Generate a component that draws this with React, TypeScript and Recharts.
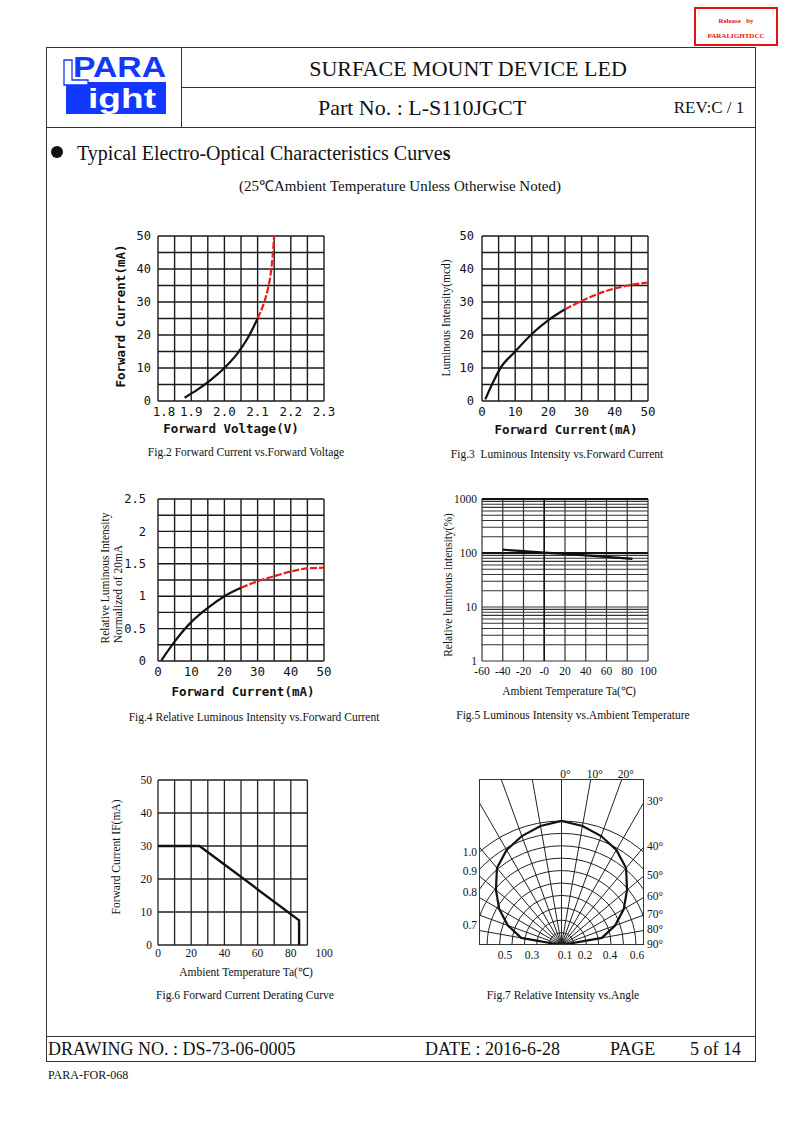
import React from 'react';
import {
  LineChart, Line, XAxis, YAxis, CartesianGrid, ReferenceLine,
  RadarChart, Radar, PolarGrid, PolarAngleAxis, PolarRadiusAxis,
} from 'recharts';

const SERIF = '"Liberation Serif", "Times New Roman", serif';
const MONO = '"DejaVu Sans Mono", "Liberation Mono", monospace';
const INK = '#111';
const RED = '#f01a1a';
const LOGO_BLUE = '#1238ff';

// Fig.2 forward current vs forward voltage
const fig2VoltSolid = [1.88, 1.92, 1.96, 2.0, 2.04, 2.07, 2.1];
const fig2CurSolid = [1, 3.5, 6.5, 10, 14.5, 19, 25];
const fig2VoltDash = [2.1, 2.12, 2.13, 2.14, 2.145, 2.15];
const fig2CurDash = [25, 30, 33.5, 39, 43.5, 50];
const fig2XTicks = [1.8, 1.9, 2.0, 2.1, 2.2, 2.3];
const fig2XGrid = [1.8, 1.85, 1.9, 1.95, 2.0, 2.05, 2.1, 2.15, 2.2, 2.25, 2.3];

// Fig.3 luminous intensity vs forward current
const fig3CurSolid = [1, 3, 5.5, 10, 15, 20, 25];
const fig3LumSolid = [0.5, 5.0, 9.9, 15, 20.3, 24.5, 27.8];
const fig3CurDash = [25, 30, 35, 40, 45, 50];
const fig3LumDash = [27.8, 30.3, 32.5, 34.1, 35.2, 35.9];

// Fig.4 relative luminous intensity vs forward current
const fig4CurSolid = [1, 5, 10, 15, 20, 25];
const fig4RelSolid = [0.01, 0.3, 0.6, 0.82, 1.0, 1.13];
const fig4CurDash = [25, 30, 35, 40, 45, 50];
const fig4RelDash = [1.13, 1.23, 1.31, 1.38, 1.43, 1.44];
const fig4YTicks = [0, 0.5, 1, 1.5, 2, 2.5];
const fig4YGrid = [0, 0.25, 0.5, 0.75, 1, 1.25, 1.5, 1.75, 2, 2.25, 2.5];

// shared current axis (0-50)
const ticks50 = [0, 10, 20, 30, 40, 50];
const grid50 = [0, 5, 10, 15, 20, 25, 30, 35, 40, 45, 50];

// Fig.5 luminous intensity vs ambient temperature (log)
const fig5Temp = [-40, -20, 0, 20, 40, 60, 85];
const fig5Rel = [115, 108, 102, 96, 90, 85, 78];
const fig5XTicks = [-60, -40, -20, 0, 20, 40, 60, 80, 100];
const fig5XLabels = ['-60', '-40', '-20', '-0', '20', '40', '60', '80', '100'];
const fig5YTicks = [1, 10, 100, 1000];
const fig5YGrid = [1, 2, 3, 4, 5, 6, 7, 8, 9, 10, 20, 30, 40, 50, 60, 70, 80, 90, 100, 200, 300, 400, 500, 600, 700, 800, 900, 1000];

// Fig.6 derating curve
const fig6Temp = [0, 25, 85, 85];
const fig6Cur = [30, 30, 7.5, 0];
const fig6XTicks = [0, 20, 40, 60, 80, 100];
const fig6XGrid = [0, 10, 20, 30, 40, 50, 60, 70, 80, 90];
const fig6YGrid = [0, 10, 20, 30, 40, 50];

// Fig.7 relative intensity vs angle
const fig7Angles = [-90, -80, -70, -60, -50, -40, -30, -20, -10, 0, 10, 20, 30, 40, 50, 60, 70, 80, 90];
const fig7Intensity = [0, 0.33, 0.46, 0.58, 0.69, 0.81, 0.885, 0.935, 0.975, 1.0, 0.975, 0.935, 0.885, 0.81, 0.69, 0.58, 0.46, 0.33, 0];
const fig7Rings = [0.1, 0.2, 0.3, 0.4, 0.5, 0.6, 0.7, 0.8, 0.9, 1.0];
const fig7Spokes = [0, 10, 20, 30, 40, 50, 60, 70, 80, 90, 100, 110, 120, 130, 140, 150, 160, 170, 180];
const fig7AngleLabels = ['0°', '10°', '20°', '30°', '40°', '50°', '60°', '70°', '80°', '90°'];
const fig7LeftLabels = ['1.0', '0.9', '0.8', '0.7'];
const fig7BottomLabels = ['0.5', '0.3', '0.1', '0.2', '0.4', '0.6'];

const splitRows = (x1: number[], y1: number[], x2: number[], y2: number[]) => [
  ...x1.map((x, i) => ({ x, solid: y1[i] })),
  ...x2.map((x, i) => ({ x, dash: y2[i] })),
];

const fig2Data = splitRows(fig2VoltSolid, fig2CurSolid, fig2VoltDash, fig2CurDash);
const fig3Data = splitRows(fig3CurSolid, fig3LumSolid, fig3CurDash, fig3LumDash);
const fig4Data = splitRows(fig4CurSolid, fig4RelSolid, fig4CurDash, fig4RelDash);
const fig5Data = fig5Temp.map((x, i) => ({ x, rel: fig5Rel[i] }));
const fig6Data = fig6Temp.map((x, i) => ({ x, cur: fig6Cur[i] }));
const fig7Data = fig7Angles.map((angle, i) => ({ angle, value: fig7Intensity[i] }));

const YW = 44;
const XH = 26;
const PT = 10;
const PR = 22;

const place = (px: number, py: number, pw: number, ph: number) => ({
  style: { position: 'absolute' as const, left: px - YW, top: py - PT },
  width: YW + pw + PR,
  height: PT + ph + XH,
});

const Txt = ({ x, y, children, size = 12, family = SERIF, weight = 400, anchor = 'middle', color = INK, rotate = false }: any) => {
  const tx = anchor === 'middle' ? '-50%' : anchor === 'end' ? '-100%' : '0';
  return (
    <div
      style={{
        position: 'absolute', left: x, top: y, fontSize: size, fontFamily: family, fontWeight: weight,
        color, whiteSpace: 'nowrap', lineHeight: 1,
        transform: rotate ? 'translate(-50%,-50%) rotate(-90deg)' : `translate(${tx},-50%)`,
      }}
    >
      {children}
    </div>
  );
};

const HLine = ({ x1, x2, y, w = 1 }: any) => (
  <div style={{ position: 'absolute', left: x1, top: y, width: x2 - x1, height: w, background: '#333' }} />
);
const VLine = ({ x, y1, y2, w = 1 }: any) => (
  <div style={{ position: 'absolute', left: x, top: y1, width: w, height: y2 - y1, background: '#333' }} />
);

const monoTick = { fontSize: 12, fontFamily: MONO, fill: INK };
const serifTick = { fontSize: 11.5, fontFamily: SERIF, fill: INK };

// x tick with an optional nudge of the first label (keeps it clear of the y "0")
const shiftedTick = (firstDx: number, fmt?: (v: number) => string) => (p: any) => (
  <text x={p.x + (p.index === 0 ? firstDx : 0)} y={p.y} dy="0.71em" textAnchor="middle"
    fontSize={12.5} fontFamily={MONO} fill={INK}>
    {fmt ? fmt(p.payload.value) : p.payload.value}
  </text>
);

const SplitChart = ({ box, data, xDomain, xTicks, xGrid, yDomain, yTicks, yGrid, xFmt, firstDx = 0, yTickSize = 4 }: any) => (
  <div style={box.style}>
    <LineChart width={box.width} height={box.height} data={data} margin={{ top: PT, right: PR, bottom: 0, left: 0 }}>
      <CartesianGrid stroke="#1a1a1a" strokeWidth={1.4} horizontalValues={yGrid} verticalValues={xGrid} />
      <XAxis dataKey="x" type="number" domain={xDomain} ticks={xTicks} interval={0} height={XH}
        tickLine={false} axisLine={false} tickSize={4} tick={shiftedTick(firstDx, xFmt)} />
      <YAxis type="number" domain={yDomain} ticks={yTicks} interval={0} width={YW}
        tickLine={false} axisLine={false} tickSize={yTickSize} tick={monoTick} />
      <Line dataKey="solid" type="monotone" stroke={INK} strokeWidth={2.2} dot={false} isAnimationActive={false} />
      <Line dataKey="dash" type="monotone" stroke={RED} strokeWidth={2.2} strokeDasharray="7 2" dot={false} isAnimationActive={false} />
    </LineChart>
  </div>
);

// Fig.7 geometry (box and polar origin)
const F7 = { left: 479, top: 779, w: 165, h: 166 };
const F7_OUTER = 248;
const F7_RMAX = 2;
const ringPx = fig7Rings.map((v) => (v * F7_OUTER) / F7_RMAX);

export default function App() {
  const b2 = place(158, 236, 166, 165);
  const b3 = place(482, 236, 166, 165);
  const b4 = place(158, 499, 166, 162);
  const b5 = place(482, 499, 166, 162);
  const b6 = place(158, 780, 166, 165);
  const ox = F7.w / 2;
  const oy = F7.h;

  return (
    <div style={{ position: 'absolute', left: 0, top: 0, width: 793, height: 1123, background: '#fff', fontFamily: SERIF, color: INK }}>
      {/* release stamp */}
      <div style={{ position: 'absolute', left: 694, top: 7, width: 80, height: 35, border: '2px solid #e81010' }} />
      <Txt x={736} y={21} size={7} weight={700} color="#e81010">Release&nbsp;&nbsp;&nbsp;by</Txt>
      <Txt x={736} y={36} size={7} weight={700} color="#e81010">PARALIGHTDCC</Txt>

      {/* page frame */}
      <HLine x1={46} x2={756} y={47} />
      <HLine x1={181} x2={756} y={87} />
      <HLine x1={46} x2={756} y={127} />
      <VLine x={46} y1={47} y2={1062} />
      <VLine x={755} y1={47} y2={1062} />
      <VLine x={181} y1={47} y2={127} />
      <HLine x1={46} x2={756} y={1036} />
      <HLine x1={46} x2={756} y={1061} />

      {/* logo */}
      <svg style={{ position: 'absolute', left: 60, top: 52 }} width={112} height={66}>
        <rect x={6} y={30} width={100} height={32} fill={LOGO_BLUE} />
        <path d="M4,8 h8 v20 h16 v5 h-24 z" fill="#fff" stroke={LOGO_BLUE} strokeWidth={1.3} />
        <text x={13} y={24.5} fontFamily='"Liberation Sans", Arial, sans-serif' fontWeight={700} fontSize={29} fill={LOGO_BLUE} textLength={93} lengthAdjust="spacingAndGlyphs">PARA</text>
        <text x={28} y={55.5} fontFamily='"Liberation Sans", Arial, sans-serif' fontWeight={700} fontSize={27} fill="#fff" textLength={68} lengthAdjust="spacingAndGlyphs">ight</text>
      </svg>

      <Txt x={468} y={69} size={22}>SURFACE MOUNT DEVICE LED</Txt>
      <Txt x={422} y={108} size={22}>Part No. : L-S110JGCT</Txt>
      <Txt x={709} y={107} size={17}>REV:C / 1</Txt>

      <div style={{ position: 'absolute', left: 51, top: 146, width: 12, height: 12, borderRadius: 6, background: INK }} />
      <Txt x={77} y={153} size={20} anchor="start">Typical Electro-Optical Characteristics Curve<b>s</b></Txt>
      <Txt x={400} y={186} size={15}>(25℃Ambient Temperature Unless Otherwise Noted)</Txt>

      {/* Fig.2 */}
      <SplitChart box={b2} data={fig2Data} xDomain={[1.8, 2.3]} xTicks={fig2XTicks} xGrid={fig2XGrid}
        yDomain={[0, 50]} yTicks={ticks50} yGrid={grid50} xFmt={(v: number) => v.toFixed(1)} firstDx={6} yTickSize={5} />
      <Txt x={121} y={316} size={12.5} family={MONO} weight={700} rotate>Forward Current(mA)</Txt>
      <Txt x={231} y={429} size={12.5} family={MONO} weight={700}>Forward Voltage(V)</Txt>
      <Txt x={246} y={453} size={11.5}>Fig.2 Forward Current vs.Forward Voltage</Txt>

      {/* Fig.3 */}
      <SplitChart box={b3} data={fig3Data} xDomain={[0, 50]} xTicks={ticks50} xGrid={grid50}
        yDomain={[0, 50]} yTicks={ticks50} yGrid={grid50} yTickSize={6} />
      <Txt x={447} y={318} size={11.5} rotate>Luminous Intensity(mcd)</Txt>
      <Txt x={566} y={430} size={12.5} family={MONO} weight={700}>Forward Current(mA)</Txt>
      <Txt x={557} y={455} size={11.5}>Fig.3&nbsp; Luminous Intensity vs.Forward Current</Txt>

      {/* Fig.4 */}
      <SplitChart box={b4} data={fig4Data} xDomain={[0, 50]} xTicks={ticks50} xGrid={grid50}
        yDomain={[0, 2.5]} yTicks={fig4YTicks} yGrid={fig4YGrid} yTickSize={10} />
      <Txt x={106} y={578} size={11.5} rotate>Relative Luminous Intensity</Txt>
      <Txt x={119} y={594} size={11.5} rotate>Normalized of 20mA</Txt>
      <Txt x={243} y={692} size={12.5} family={MONO} weight={700}>Forward Current(mA)</Txt>
      <Txt x={254} y={718} size={11.5}>Fig.4 Relative Luminous Intensity vs.Forward Current</Txt>

      {/* Fig.5 */}
      <div style={b5.style}>
        <LineChart width={b5.width} height={b5.height} data={fig5Data} margin={{ top: PT, right: PR, bottom: 0, left: 0 }}>
          <CartesianGrid stroke="#333" strokeWidth={1.2} horizontalValues={fig5YGrid} verticalValues={fig5XTicks} />
          <ReferenceLine y={100} stroke={INK} strokeWidth={2} />
          <ReferenceLine y={1000} stroke={INK} strokeWidth={2} />
          <ReferenceLine x={0} stroke={INK} strokeWidth={1.5} />
          <XAxis dataKey="x" type="number" domain={[-60, 100]} ticks={fig5XTicks} interval={0} height={XH}
            tickFormatter={(_v: number, i: number) => fig5XLabels[i]} tickLine={false} axisLine={false} tickSize={4} tick={serifTick} />
          <YAxis type="number" scale="log" domain={[1, 1000]} ticks={fig5YTicks} interval={0} width={YW} allowDataOverflow
            tickLine={false} axisLine={false} tickSize={3} tick={serifTick} />
          <Line dataKey="rel" type="linear" stroke={INK} strokeWidth={2.2} dot={false} isAnimationActive={false} />
        </LineChart>
      </div>
      <Txt x={449} y={585} size={11.5} rotate>Relative luminous intensity(%)</Txt>
      <Txt x={569} y={692} size={11.5}>Ambient Temperature Ta(℃)</Txt>
      <Txt x={573} y={716} size={11.5}>Fig.5 Luminous Intensity vs.Ambient Temperature</Txt>

      {/* Fig.6 */}
      <div style={b6.style}>
        <LineChart width={b6.width} height={b6.height} data={fig6Data} margin={{ top: PT, right: PR, bottom: 0, left: 0 }}>
          <CartesianGrid stroke="#222" strokeWidth={1.3} horizontal={false} verticalValues={fig6XGrid} />
          {fig6YGrid.map((v) => (
            <ReferenceLine key={v} segment={[{ x: 0, y: v }, { x: 90, y: v }]} stroke="#222" strokeWidth={1.3} />
          ))}
          <XAxis dataKey="x" type="number" domain={[0, 100]} ticks={fig6XTicks} interval={0} height={XH}
            tickLine={false} axisLine={false} tickSize={2} tick={serifTick} />
          <YAxis type="number" domain={[0, 50]} ticks={fig6YGrid} interval={0} width={YW}
            tickLine={false} axisLine={false} tickSize={4} tick={serifTick} />
          <Line dataKey="cur" type="linear" stroke={INK} strokeWidth={2.4} dot={false} isAnimationActive={false} />
        </LineChart>
      </div>
      <Txt x={117} y={857} size={11.5} rotate>Forward Current IF(mA)</Txt>
      <Txt x={246} y={973} size={11.5}>Ambient Temperature Ta(℃)</Txt>
      <Txt x={245} y={996} size={11.5}>Fig.6 Forward Current Derating Curve</Txt>

      {/* Fig.7 */}
      <div style={{ position: 'absolute', left: F7.left, top: F7.top, width: F7.w, height: F7.h, overflow: 'hidden' }}>
        <RadarChart width={F7.w} height={F7.h} cx={ox} cy={oy} outerRadius={F7_OUTER} startAngle={180} endAngle={0}
          data={fig7Data} margin={{ top: 0, right: 0, bottom: 0, left: 0 }}>
          <PolarGrid gridType="circle" polarAngles={fig7Spokes} polarRadius={ringPx} stroke="#222" strokeWidth={1} />
          <PolarAngleAxis dataKey="angle" type="number" domain={[-90, 90]} tick={false} axisLine={false} tickLine={false} />
          <PolarRadiusAxis domain={[0, F7_RMAX]} tick={false} axisLine={false} allowDataOverflow />
          <Radar dataKey="value" stroke={INK} strokeWidth={2.2} fill="none" fillOpacity={0} dot={false} isAnimationActive={false} />
        </RadarChart>
      </div>
      <div style={{ position: 'absolute', left: F7.left, top: F7.top, width: F7.w, height: F7.h, border: '1px solid #333', boxSizing: 'border-box' }} />
      {fig7AngleLabels.map((t, i) => {
        const a = (i * 10 * Math.PI) / 180;
        if (i < 3) {
          const x = F7.left + ox + oy * Math.tan(a);
          return <Txt key={t} x={x + 4} y={775} size={11.5}>{t}</Txt>;
        }
        const y = F7.top + oy - ox / Math.tan(a);
        return <Txt key={t} x={F7.left + F7.w + 3} y={y} size={11.5} anchor="start">{t}</Txt>;
      })}
      {fig7LeftLabels.map((t, i) => (
        <Txt key={t} x={477} y={[853, 872, 893, 926][i]} size={11.5} anchor="end">{t}</Txt>
      ))}
      {fig7BottomLabels.map((t, i) => (
        <Txt key={t} x={[505, 532, 565, 585, 610, 637][i]} y={956} size={11.5}>{t}</Txt>
      ))}
      <Txt x={563} y={996} size={11.5}>Fig.7 Relative Intensity vs.Angle</Txt>

      {/* footer */}
      <Txt x={48} y={1049} size={18} anchor="start">DRAWING NO. : DS-73-06-0005</Txt>
      <Txt x={425} y={1049} size={18} anchor="start">DATE : 2016-6-28</Txt>
      <Txt x={610} y={1049} size={18} anchor="start">PAGE</Txt>
      <Txt x={690} y={1049} size={18} anchor="start">5 of 14</Txt>
      <Txt x={48} y={1075} size={12} anchor="start">PARA-FOR-068</Txt>
    </div>
  );
}
